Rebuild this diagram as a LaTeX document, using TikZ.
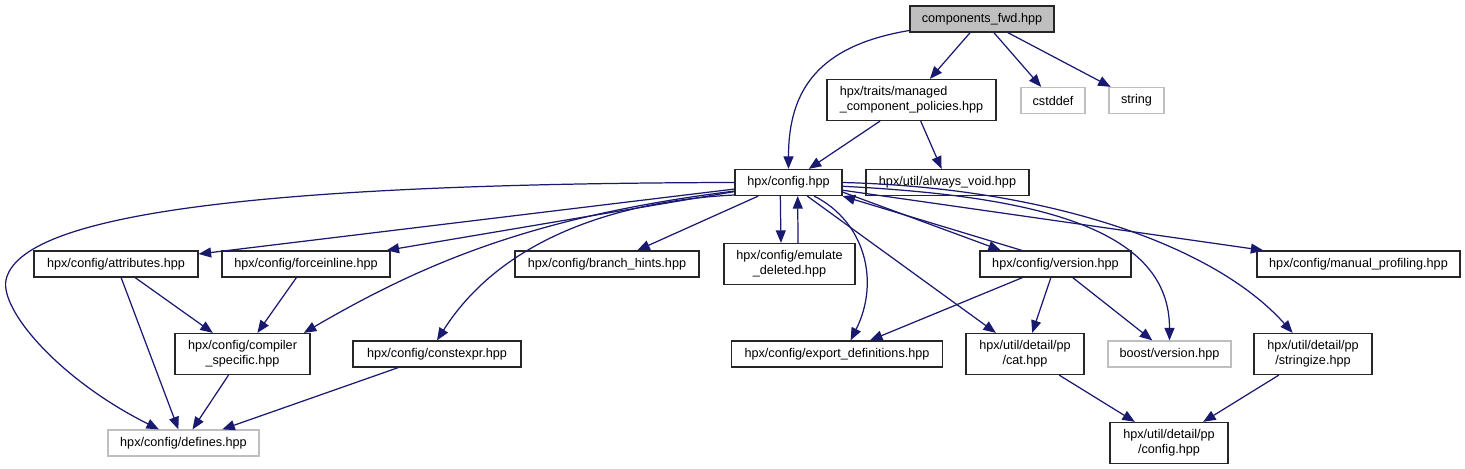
\documentclass[tikz,border=0pt]{standalone}
\usepackage{fontspec}
\setmainfont{Liberation Sans}
\usetikzlibrary{arrows.meta}
\definecolor{edgeblue}{RGB}{25,25,112}
\definecolor{sysgray}{RGB}{191,191,191}
\newlength\pxu
\setlength\pxu{0.02cm}
\tikzset{
  hdr/.style={rectangle, draw=black!85, line width=0.7pt, fill=white,
              inner sep=0pt, minimum height=26\pxu, align=center,
              font=\fontsize{7.2}{8.4}\selectfont},
  hdrtwo/.style={hdr, minimum height=41\pxu},
  sysh/.style={hdr, draw=sysgray},
  inarr/.style={-{Triangle[length=2.5mm,width=2mm]}, line width=0.7pt, color=edgeblue}
}

\begin{document}
\begin{tikzpicture}[x=0.02cm, y=-0.02cm]
  \useasboundingbox (0,0) rectangle (1465,469);

  % Nodes
  \node[hdr, fill=sysgray, minimum width=144\pxu] (comp) at (982,19) {components\_fwd.hpp};
  \node[hdrtwo, align=left, minimum width=169\pxu] (traits) at (911.5,100) {hpx/traits/managed\\\_component\_policies.hpp};
  \node[sysh, minimum width=64\pxu]  (cstddef) at (1053,100.5) {cstddef};
  \node[sysh, minimum width=55\pxu]  (string)  at (1136.5,100.5) {string};
  \node[hdr, minimum width=107\pxu]  (config)  at (788.5,182.5) {hpx/config.hpp};
  \node[hdr, minimum width=163\pxu]  (void)    at (947.5,182.5) {hpx/util/always\_void.hpp};

  % Third row
  \node[hdr, minimum width=164\pxu]    (attr)    at (116,264)    {hpx/config/attributes.hpp};
  \node[hdr, minimum width=168\pxu]    (force)   at (306,264)    {hpx/config/forceinline.hpp};
  \node[hdr, minimum width=184\pxu]    (branch)  at (607,264)    {hpx/config/branch\_hints.hpp};
  \node[hdrtwo, minimum width=131\pxu] (emul)    at (789.5,264)  {hpx/config/emulate\\\_deleted.hpp};
  \node[hdr, minimum width=151\pxu]    (version) at (1055.5,264) {hpx/config/version.hpp};
  \node[hdr, minimum width=203\pxu]    (manual)  at (1358.5,264) {hpx/config/manual\_profiling.hpp};

  % Fourth row
  \node[hdrtwo, minimum width=135\pxu] (compiler)  at (242.5,354)  {hpx/config/compiler\\\_specific.hpp};
  \node[hdr, minimum width=168\pxu]    (constexpr) at (437,354)    {hpx/config/constexpr.hpp};
  \node[hdr, minimum width=211\pxu]    (export)    at (837,354)    {hpx/config/export\_definitions.hpp};
  \node[hdrtwo, minimum width=118\pxu] (cat)       at (1025,354)   {hpx/util/detail/pp\\/cat.hpp};
  \node[sysh, minimum width=123\pxu]   (boost)     at (1169.5,354) {boost/version.hpp};
  \node[hdrtwo, minimum width=118\pxu] (stringize) at (1313,354)   {hpx/util/detail/pp\\/stringize.hpp};

  % Bottom row
  \node[sysh, minimum width=151\pxu]   (defines)  at (183.5,443) {hpx/config/defines.hpp};
  \node[hdrtwo, minimum width=118\pxu] (ppconfig) at (1169,443)  {hpx/util/detail/pp\\/config.hpp};

  % Arrows from the top
  \draw[inarr] (comp) -- (traits);
  \draw[inarr] (comp) -- (cstddef);
  \draw[inarr] (comp) -- (string);
  \draw[inarr] (comp.189) .. controls +(-90,15) and +(0,-80) .. (config.north);
  \draw[inarr] (traits) -- (config);
  \draw[inarr] (traits) -- (void);

  % Fan out of config
  \draw[inarr] (config) -- (attr);
  \draw[inarr] (config) -- (force);
  \draw[inarr] (config.189) .. controls +(-200,25) and +(120,-70) .. (compiler.19);
  \coordinate (lbend) at (6,280);
  \draw[inarr] (config.west) .. controls +(-485,1) and +(14,-65) .. (lbend)
               .. controls +(-6,30) and +(-100,-50) .. (defines.151);
  \draw[inarr] (config.193) .. controls +(-100,5) and +(70,-110) .. (constexpr.north);
  \draw[inarr] (config) -- (branch);
  \draw[inarr] (config.239) -- (emul.112);
  \draw[inarr] (emul.68) -- (config.304);
  \draw[inarr] (config.332) .. controls +(50,25) and +(30,-60) .. (export.45);
  \draw[inarr] (config) -- (cat);
  \draw[inarr] (config.350) -- (version.166);
  \draw[inarr] (version.158) -- (config.south east);
  \draw[inarr] (config.356) .. controls +(200,10) and +(0,-110) .. (boost.north);
  \draw[inarr] (config) -- (manual);
  \draw[inarr] (config.east) .. controls +(200,5) and +(-80,-90) .. (stringize.134);

  % Lower arrows
  \draw[inarr] (attr) -- (compiler);
  \draw[inarr] (attr) -- (defines);
  \draw[inarr] (force) -- (compiler);
  \draw[inarr] (compiler) -- (defines);
  \draw[inarr] (constexpr) -- (defines);
  \draw[inarr] (version) -- (export);
  \draw[inarr] (version) -- (cat);
  \draw[inarr] (version) -- (boost);
  \draw[inarr] (cat) -- (ppconfig);
  \draw[inarr] (stringize) -- (ppconfig);

\end{tikzpicture}
\end{document}
